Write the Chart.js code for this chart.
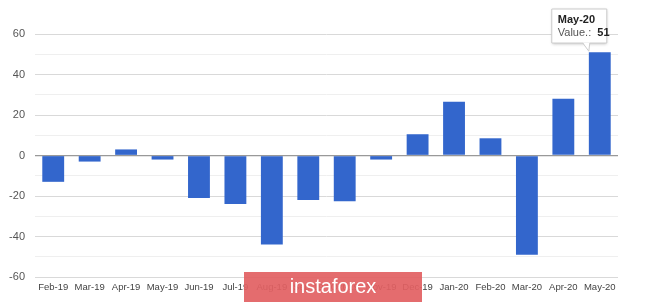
<!DOCTYPE html>
<html>
<head>
<meta charset="utf-8">
<script src="https://cdn.jsdelivr.net/npm/chart.js@4"></script>
<style>
  html, body { margin: 0; padding: 0; background: #fff; }
  #wrap { position: relative; width: 665px; height: 303px; }
  #watermark {
    position: absolute; left: 244px; top: 272px; width: 178px; height: 30px;
    background: rgba(226, 96, 98, 0.92); color: #fff;
    font: 20px "Liberation Sans", Arial, sans-serif; text-align: center; line-height: 29px;
  }
</style>
</head>
<body>
<div id="wrap">
  <canvas id="chart" width="665" height="303"></canvas>
  <div id="watermark">instaforex</div>
</div>
<script>
const months = ['Feb-19', 'Mar-19', 'Apr-19', 'May-19', 'Jun-19', 'Jul-19', 'Aug-19', 'Sep-19',
    'Oct-19', 'Nov-19', 'Dec-19', 'Jan-20', 'Feb-20', 'Mar-20', 'Apr-20', 'May-20']
const values = [-13, -3, 3, -2, -21, -24, -44, -22, -22.6, -2, 10.5, 26.5, 8.5, -49, 28, 51]
const yTicks = [-60, -40, -20, 0, 20, 40, 60]
const tipIndex = 15

const fontFamily = '"Liberation Sans", Arial, sans-serif'

// tooltip box drawn over the last bar
const tipPlugin = {
    id: 'tip',
    afterDraw(chart) {
        const ctx = chart.ctx
        const bar = chart.getDatasetMeta(0).data[tipIndex]
        const left = bar.x - 48, top = 9, w = 55, h = 34
        ctx.save()
        ctx.shadowColor = 'rgba(0,0,0,0.25)'
        ctx.shadowBlur = 3
        ctx.shadowOffsetY = 1
        ctx.fillStyle = '#fff'
        ctx.strokeStyle = '#ccc'
        ctx.beginPath()
        ctx.rect(left, top, w, h)
        ctx.fill()
        ctx.shadowColor = 'transparent'
        ctx.stroke()
        // tail
        ctx.beginPath()
        ctx.moveTo(bar.x - 17, top + h - 0.5)
        ctx.lineTo(bar.x - 10, top + h - 0.5)
        ctx.lineTo(bar.x - 11, bar.y - 1)
        ctx.closePath()
        ctx.fill()
        ctx.beginPath()
        ctx.moveTo(bar.x - 17, top + h)
        ctx.lineTo(bar.x - 11, bar.y - 1)
        ctx.lineTo(bar.x - 10, top + h)
        ctx.stroke()
        ctx.textBaseline = 'middle'
        ctx.fillStyle = '#222'
        ctx.font = 'bold 11px ' + fontFamily
        ctx.fillText(months[tipIndex], left + 6, top + 11)
        ctx.fillStyle = '#555'
        ctx.font = '11px ' + fontFamily
        const lbl = 'Value.: '
        ctx.fillText(lbl, left + 6, top + 24)
        ctx.fillStyle = '#222'
        ctx.font = 'bold 11px ' + fontFamily
        ctx.fillText(String(Math.round(values[tipIndex])), left + 6 + ctx.measureText(lbl).width + 1, top + 24)
        ctx.restore()
    }
}

new Chart(document.getElementById('chart').getContext('2d'), {
    type: 'bar',
    data: {
        labels: months,
        datasets: [{
            data: values,
            backgroundColor: '#3366cc',
            categoryPercentage: 1,
            barPercentage: 0.6
        }]
    },
    options: {
        responsive: false,
        animation: false,
        layout: { padding: { top: 34, right: 47, left: 0, bottom: 0 } },
        plugins: { legend: { display: false }, tooltip: { enabled: false } },
        scales: {
            x: {
                grid: { display: false, drawTicks: false },
                border: { display: false },
                ticks: { color: '#444', font: { size: 9.5, family: fontFamily }, padding: 5, maxRotation: 0, autoSkip: false },
                afterFit(scale) { scale.height = 26 }
            },
            y: {
                min: -60,
                max: 60,
                border: { display: false },
                grid: {
                    drawTicks: false,
                    color: c => c.tick.value === 0 ? '#999' : (yTicks.includes(c.tick.value) ? '#d9d9d9' : '#efefef'),
                    lineWidth: c => c.tick.value === 0 ? 1.3 : 1
                },
                ticks: {
                    stepSize: 10,
                    color: '#555',
                    padding: 10,
                    font: { size: 11, family: fontFamily },
                    callback: v => yTicks.includes(v) ? v : ''
                },
                afterFit(scale) { scale.width = 35 }
            }
        }
    },
    plugins: [tipPlugin]
})
</script>
</body>
</html>
